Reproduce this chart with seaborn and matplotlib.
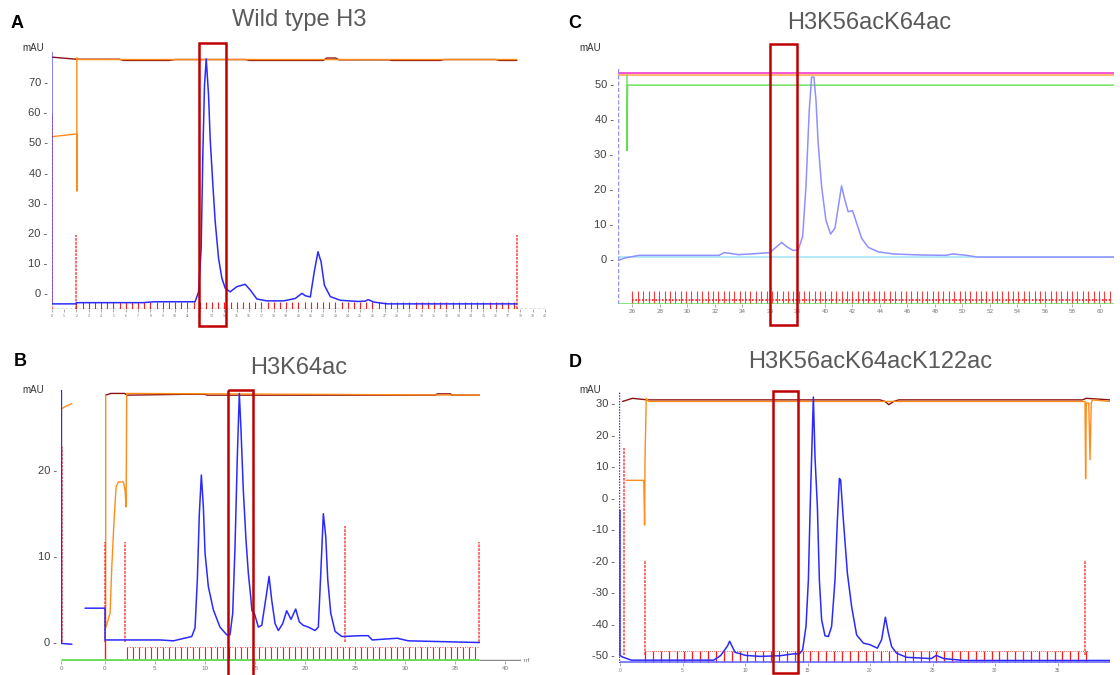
import numpy as np
import matplotlib
matplotlib.use("Agg")
import matplotlib.pyplot as plt
import matplotlib.patches as patches
import seaborn as sns

sns.set_theme(style="white")
plt.rcParams['font.family'] = ['Liberation Sans', 'DejaVu Sans']

BLUE = '#2a2aff'
LAVENDER = '#9090ff'
ORANGE = '#ff8c1a'
BROWN = '#8b1010'
RED = '#ff1a1a'
GREEN = '#66dd55'
MAGENTA = '#f020d0'
CYAN = '#a6e6f5'
BOX = '#c00000'
TITLE_GRAY = '#5a5a5a'
TICK_GRAY = '#404040'

# ---------------- panel A : Wild type H3 ----------------
a_blue_x = [0, 0, 2.0, 2.0, 7.4, 8.3, 11.62, 11.9, 12.11, 12.17, 12.25, 12.38, 12.52, 12.71, 12.84,
            13.06, 13.25, 13.52, 13.79, 14.06, 14.46, 15.0, 15.68, 16.09, 16.63, 17.44, 18.8, 19.74,
            20.28, 20.55, 20.96, 21.28, 21.58, 21.83, 22.1, 22.58, 23.39, 24.8, 25.4, 25.65, 26.1,
            27.2, 37.7]
a_blue_y = [80, -3.6, -3.6, -3.2, -3.2, -2.9, -2.9, 0.4, 14.8, 29, 46.8, 68.9, 77.7, 65.6, 51.2,
            35.8, 23.6, 11.5, 4.9, 1.6, 0.4, 2.1, 2.9, 1.0, -2.0, -2.6, -2.6, -1.8,
            -0.1, -0.9, -1.3, 7.1, 13.7, 10.4, 2.6, -1.2, -2.4, -2.8, -2.7, -2.2, -3.0,
            -3.6, -3.6]
a_orange_x = [0, 2.03, 2.03, 2.03, 2.2, 37.7]
a_orange_y = [51.9, 52.8, 33.9, 78.1, 77.5, 77.5]
a_brown_x = [0, 2.0, 5.5, 5.8, 9.5, 10.0, 15.7, 16.0, 22.0, 22.3, 23.0, 23.3, 27.3, 27.6, 31.5, 31.8, 36.0, 36.3, 37.7]
a_brown_y = [78.3, 77.6, 77.6, 77.2, 77.2, 77.5, 77.5, 77.2, 77.2, 78.0, 78.0, 77.4, 77.4, 77.2, 77.2, 77.5, 77.5, 77.2, 77.2]
a_event_x = [0.05, 2.0, 37.7]
a_event_top = [59.5, 19.4, 19.4]
a_frac_start, a_frac_stop, a_frac_step = 2.0, 37.7, 0.5
a_ticks = list(range(0, 41))
a_box = (11.95, 14.1)

# ---------------- panel B : H3K64ac ----------------
b_blue_x = [-4.32, -4.32, -3.28, None, -1.96, 0.04, 0.04, 5.53, 6.86, 8.69, 9.02, 9.25, 9.45, 9.65, 9.85,
            10.02, 10.35, 10.85, 11.51, 12.18, 12.51, 12.78, 13.01, 13.24, 13.44, 13.61, 13.84, 14.11,
            14.34, 14.58, 14.7, 14.94, 15.34, 15.68, 16.11, 16.41, 16.68, 17.01, 17.34, 17.77, 18.17,
            18.6, 19.07, 19.43, 19.83, 20.33, 21.0, 21.33, 21.6, 21.83, 22.07, 22.27, 22.57, 23.0,
            23.67, 25.6, 26.3, 26.7, 29.2, 30.3, 37.4]
b_blue_y = [29.3, -0.2, -0.3, None, 3.9, 3.9, 0.2, 0.2, 0.1, 0.6, 1.6, 7.2, 14.9, 19.4, 15.7,
            10.3, 6.4, 3.7, 1.7, 0.8, 0.8, 3.3, 11.0, 21.5, 28.9, 24.6, 17.6, 11.8,
            8.0, 5.2, 3.6, 3.3, 1.7, 1.9, 5.2, 7.6, 4.8, 2.1, 1.3, 2.1, 3.6,
            2.6, 3.8, 2.3, 1.9, 1.7, 1.3, 1.7, 8.7, 14.9, 12.2, 7.2, 3.3, 1.2,
            0.6, 0.7, 0.7, 0.2, 0.4, 0.1, -0.1]
b_orange_x = [-4.32, -4.32, -3.9, -3.28, None, 0.1, 0.1, 0.54, 0.71, 0.94, 1.14, 1.37, 1.87, 2.04, 2.14, 2.2, 37.4]
b_orange_y = [-0.2, 27.1, 27.4, 27.7, None, 28.7, 1.6, 3.3, 8.7, 14.2, 18.0, 18.6, 18.6, 17.6, 15.7, 28.9, 28.7]
b_brown_x = [0.1, 0.6, 2.0, 2.2, 8.0, 10.0, 10.2, 33.0, 33.2, 34.5, 34.7, 37.4]
b_brown_y = [28.7, 28.9, 28.9, 28.7, 28.8, 28.8, 28.7, 28.7, 28.85, 28.85, 28.7, 28.7]
b_event_x = [-4.25, 0.04, 2.04, 24.0, 37.4]
b_event_top = [22.7, 11.6, 11.6, 13.5, 11.6]
b_frac_start, b_frac_stop, b_frac_step = 2.2, 37.4, 0.6
b_ticks = [-4.32, 0, 5, 10, 15, 20, 25, 30, 35, 40]
b_tick_labels = ['0', '0', '5', '10', '15', '20', '25', '30', '35', '40']
b_box = (12.3, 14.8)

# ---------------- panel C : H3K56acK64ac ----------------
c_blue_x = [24.94, 25.5, 26.5, 32.3, 32.68, 33.7, 35.0, 36.0, 36.49, 36.85, 37.21, 37.69, 38.06, 38.38,
            38.62, 38.86, 39.03, 39.2, 39.35, 39.51, 39.76, 40.07, 40.41, 40.73, 40.97, 41.21, 41.45,
            41.69, 42.01, 42.31, 42.67, 43.15, 43.88, 44.97, 46.91, 48.8, 49.3, 50.3, 51.1, 61.0]
c_blue_y = [-0.5, 0.3, 1.0, 1.0, 1.8, 1.2, 1.5, 1.8, 3.5, 4.7, 3.5, 2.4, 2.6, 6.4,
            20.7, 42.6, 52.1, 52.1, 45.4, 33.0, 20.7, 11.1, 7.1, 8.8, 14.9, 20.9, 16.9,
            13.5, 13.8, 10.2, 5.9, 3.3, 2.0, 1.4, 1.1, 1.0, 1.4, 1.0, 0.5, 0.5]
c_green_x = [25.6, 25.6, 25.65, 61.0]
c_green_y = [52.7, 31.0, 49.8, 49.8]
c_magenta_x = [24.94, 61.0]
c_magenta_y = [53.4, 53.4]
c_orange_x = [24.94, 61.0]
c_orange_y = [52.6, 52.6]
c_cyan_x = [24.94, 61.0]
c_cyan_y = [0.5, 0.5]
c_frac_start, c_frac_stop, c_frac_step = 26.0, 60.9, 0.39
c_ticks = list(range(26, 61, 2))
c_box = (36.0, 37.95)

# ---------------- panel D : H3K56acK64acK122ac ----------------
d_blue_x = [0.0, 0.0, 0.2, 0.9, 7.5, 8.06, 8.6, 8.77, 9.2, 10.06, 11.2, 12.8, 13.87, 14.35, 14.61, 14.88,
            15.07, 15.2, 15.33, 15.47, 15.6, 15.79, 15.95, 16.13, 16.4, 16.67, 16.93, 17.2, 17.39, 17.55,
            17.65, 17.87, 18.19, 18.53, 18.93, 19.47, 20.0, 20.59, 20.93, 21.23, 21.47, 21.73, 22.13,
            22.93, 24.9, 25.3, 25.9, 27.5, 39.2]
d_blue_y = [-4, -50, -50.5, -51.5, -51.5, -50, -47, -45.5, -49, -50, -50.3, -50.1, -49.5, -49.5, -48.2, -40.8,
            -26.1, -5.0, 12.9, 31.9, 12.9, -2.9, -26.1, -38.7, -43.8, -44.0, -40.8, -26.1, -7.1, 6.1,
            5.6, -7.1, -23.9, -34.5, -43.5, -46.1, -46.6, -47.7, -45.0, -37.9, -42.9, -47.2, -49.3,
            -50.6, -51, -50, -51, -51.6, -51.6]
d_orange_x = [0.5, 1.9, 1.97, 2.0, 2.1, 2.3, 37.2, 37.25, 37.3, 37.5, 37.6, 37.7, 37.8, 39.2]
d_orange_y = [5.5, 5.5, -8.7, 12, 31.5, 30.5, 30.5, 6.0, 30.0, 30.0, 12.0, 30.0, 31.0, 30.5]
d_brown_x = [0.2, 1.0, 2.2, 20.8, 21.2, 21.5, 21.9, 22.3, 37.0, 37.3, 39.2]
d_brown_y = [30.5, 31.5, 31.0, 31.0, 30.5, 29.5, 30.5, 31.0, 31.0, 31.5, 31.0]
d_event_x = [0.3, 1.97, 37.2]
d_event_top = [15.6, -19.7, -19.7]
d_frac_start, d_frac_stop, d_frac_step = 2.0, 37.5, 0.63
d_ticks = [0, 5, 10, 15, 20, 25, 30, 35]
d_box = (12.2, 14.26)

W, H = 1120, 675
fig = plt.figure(figsize=(11.2, 6.75), dpi=100)


def add_ax(left, top, right, bottom):
    return fig.add_axes([left / W, 1 - bottom / H, (right - left) / W, (bottom - top) / H])


def trace(ax, x, y, color, lw=1.0, alpha=1.0, zorder=2):
    xs = np.array([np.nan if v is None else v for v in x], dtype=float)
    ys = np.array([np.nan if v is None else v for v in y], dtype=float)
    # split on gaps so seaborn draws separate pieces
    idx = np.where(np.isnan(xs))[0]
    starts = [0] + list(idx + 1)
    ends = list(idx) + [len(xs)]
    for s, e in zip(starts, ends):
        sns.lineplot(x=xs[s:e], y=ys[s:e], ax=ax, color=color, lw=lw, alpha=alpha,
                     estimator=None, sort=False, zorder=zorder)


def style(ax, yticks, xticks, xlabels, xfs=4):
    for s in ax.spines.values():
        s.set_visible(False)
    ax.set_yticks(yticks)
    ax.set_yticklabels([f"{v} -" for v in yticks], fontsize=8, color=TICK_GRAY)
    ax.set_xticks(xticks)
    ax.set_xticklabels(xlabels, fontsize=xfs, color='#777777')
    ax.tick_params(axis='y', length=0, pad=3)
    ax.tick_params(axis='x', length=2, width=0.5, color='#888888', pad=1.5, bottom=True)
    ax.set_xlabel('')
    ax.set_ylabel('')
    ax.grid(False)


def red_box(ax, xr, yr):
    ax.add_patch(patches.Rectangle((xr[0], yr[0]), xr[1] - xr[0], yr[1] - yr[0], fill=False,
                                   ec=BOX, lw=1.8, clip_on=False, zorder=10))


def events(ax, xs, tops, base):
    ax.vlines(xs, base, tops, colors=RED, lw=1.3, linestyles=(0, (1.5, 0.6)), alpha=0.7, zorder=3)


# ----- A -----
axA = add_ax(51.8, 52, 546.4, 309)
axA.set_xlim(0, 40.1)
axA.set_ylim(-5.3, 80)
fa = np.arange(a_frac_start, a_frac_stop, a_frac_step)
axA.vlines(fa, -5.2, -3.0, colors=RED, lw=0.8, zorder=3)
events(axA, a_event_x, a_event_top, -5.2)
trace(axA, a_brown_x, a_brown_y, BROWN, lw=1.0)
trace(axA, a_orange_x, a_orange_y, ORANGE, lw=1.0)
trace(axA, a_blue_x, a_blue_y, BLUE, lw=1.1, zorder=4)
axA.axhline(-5.15, color='black', lw=0.9, ls=(0, (2, 1.5)), zorder=5)
style(axA, [0, 10, 20, 30, 40, 50, 60, 70], a_ticks, [str(t) for t in a_ticks], xfs=2.5)
red_box(axA, a_box, (83.0, -11.0))

# ----- B -----
axB = add_ax(61.4, 390, 521.4, 661)
axB.set_xlim(-4.32, 41.6)
axB.set_ylim(-2.25, 29.3)
fb = np.arange(b_frac_start, b_frac_stop, b_frac_step)
axB.vlines(fb, -2.2, -0.6, colors=RED, lw=0.8, zorder=3)
axB.hlines(-0.6, b_frac_start, b_frac_stop, colors=RED, lw=0.6, linestyles=(0, (1, 2)), zorder=3)
events(axB, b_event_x, b_event_top, 0)
axB.vlines([0.04], -2.25, 0.2, colors=RED, lw=1.0, zorder=3)
trace(axB, b_brown_x, b_brown_y, BROWN, lw=1.0)
trace(axB, b_orange_x, b_orange_y, ORANGE, lw=1.0)
trace(axB, b_blue_x, b_blue_y, BLUE, lw=1.1, zorder=4)
axB.hlines(-2.15, -4.32, 37.4, colors=GREEN, lw=2.0, zorder=5)
axB.hlines(-2.15, 37.4, 41.6, colors='#888888', lw=1.0, zorder=5)
style(axB, [0, 10, 20], b_ticks, b_tick_labels, xfs=4.5)
axB.text(41.8, -2.15, 'ml', fontsize=4.5, color='#777777', va='center')
red_box(axB, b_box, (29.3, -5.55))

# ----- C -----
axC = add_ax(617.9, 67, 1113.6, 304)
axC.set_xlim(24.94, 61.0)
axC.set_ylim(-12.95, 55.0)
fc = np.arange(c_frac_start, c_frac_stop, c_frac_step)
axC.vlines(fc, -12.9, -9.3, colors=RED, lw=0.8, alpha=0.85, zorder=3)
axC.hlines(-11.8, c_frac_start, c_frac_stop, colors=RED, lw=1.2, linestyles=(0, (1, 1)), zorder=3)
trace(axC, c_orange_x, c_orange_y, ORANGE, lw=1.6, alpha=0.6)
trace(axC, c_magenta_x, c_magenta_y, MAGENTA, lw=1.4, alpha=0.75)
trace(axC, c_green_x, c_green_y, GREEN, lw=1.0)
trace(axC, c_cyan_x, c_cyan_y, CYAN, lw=1.2)
trace(axC, c_blue_x, c_blue_y, LAVENDER, lw=1.1, zorder=4)
axC.vlines([24.96], -12.95, 55.0, colors=LAVENDER, lw=1.0, linestyles=(0, (3, 1.5)), zorder=4)
axC.hlines(-12.85, 24.94, 61.0, colors=GREEN, lw=1.8, zorder=5)
style(axC, [0, 10, 20, 30, 40, 50], c_ticks, [str(t) for t in c_ticks], xfs=4.5)
red_box(axC, c_box, (61.7, -19.1))

# ----- D -----
axD = add_ax(619, 392, 1110, 663)
axD.set_xlim(-0.08, 39.2)
axD.set_ylim(-52.4, 33.5)
fd = np.arange(d_frac_start, d_frac_stop, d_frac_step)
axD.vlines(fd, -52.3, -48.7, colors=RED, lw=0.9, zorder=3)
axD.hlines(-48.7, d_frac_start, d_frac_stop, colors=RED, lw=0.6, linestyles=(0, (1, 1.5)), zorder=3)
events(axD, d_event_x, d_event_top, -50)
trace(axD, d_brown_x, d_brown_y, BROWN, lw=1.0)
trace(axD, d_orange_x, d_orange_y, ORANGE, lw=1.0)
trace(axD, d_blue_x, d_blue_y, BLUE, lw=1.1, zorder=4)
axD.vlines([-0.05], -52.4, 33.5, colors=BLUE, lw=1.0, linestyles=(0, (1, 1)), zorder=4)
axD.hlines(-52.2, 0, 39.2, colors='#6a6aff', lw=1.2, zorder=5)
style(axD, [-50, -40, -30, -20, -10, 0, 10, 20, 30], d_ticks, [str(t) for t in d_ticks], xfs=3.5)
red_box(axD, d_box, (33.9, -55.5))

# ----- titles / labels -----
for (x, y, t) in [(299, 20, 'Wild type H3'), (299, 368, 'H3K64ac'),
                  (869, 23, 'H3K56acK64ac'), (870, 362, 'H3K56acK64acK122ac')]:
    fig.text(x / W, 1 - y / H, t, fontsize=17, color=TITLE_GRAY, ha='center', va='center')
for (x, y, t) in [(16.8, 23, 'A'), (20.4, 362, 'B'), (575, 23, 'C'), (575, 362.5, 'D')]:
    fig.text(x / W, 1 - y / H, t, fontsize=13, fontweight='bold', color='black', ha='center', va='center')
for (x, y) in [(32.9, 48), (32.9, 390), (590, 48), (590, 390)]:
    fig.text(x / W, 1 - y / H, 'mAU', fontsize=7, color='#333333', ha='center', va='center')

fig.savefig('out.png', dpi=100, facecolor='white')
